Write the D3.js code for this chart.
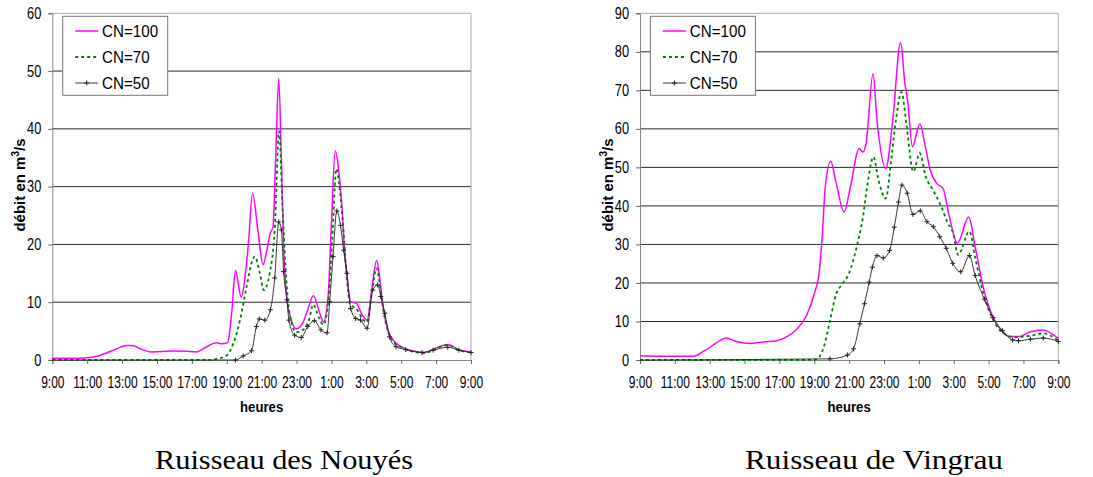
<!DOCTYPE html>
<html><head><meta charset="utf-8">
<script src="https://cdn.jsdelivr.net/npm/d3@7"></script>
<style>body{margin:0;background:#fff}svg{display:block}</style>
</head><body>
<svg id="c" width="1093" height="477"></svg>
<script>
// ---------- data ----------
const timeTicks = [0,2,4,6,8,10,12,14,16,18,20,22,24];          // hours after 9:00
const tickLabels = ["9:00","11:00","13:00","15:00","17:00","19:00","21:00","23:00","1:00","3:00","5:00","7:00","9:00"];
const seriesNames = ["CN=100","CN=70","CN=50"];

// Ruisseau des Nouyés
const nouyesT100 = [0,1,2,2.5,3.5,4.3,4.6,5.0,5.7,6.9,7.7,8.25,8.85,9.4,9.7,10.05,10.2,10.3,10.5,10.82,11.23,11.48,11.8,12.08,12.3,12.5,12.65,12.8,12.98,13.13,13.26,13.41,13.7,13.98,14.36,14.64,14.97,15.3,15.54,15.81,16.0,16.22,16.41,16.6,16.74,16.93,17.1,17.43,17.76,18.04,18.31,18.59,18.78,18.96,19.24,19.61,20.07,20.63,21.37,21.93,22.67,23.3,24];
const nouyesQ100 = [0.3,0.3,0.4,0.6,1.7,2.5,2.5,2.0,1.4,1.55,1.5,1.4,2.3,3.0,2.8,3.0,5.8,8.7,15.5,10.9,19.7,28.9,22,16.5,19,22,23,34.7,48.7,34.7,19.7,11.6,6.9,5.4,6.4,8.7,11.1,8.4,6.6,11,23.6,36.2,32.9,26.5,19.6,13.3,10.1,9.8,7.8,6.9,12.1,17.2,13.8,9.2,5.2,3.2,2.2,1.6,1.3,2.0,2.7,1.8,1.4];
const nouyesT70 = [0,9.0,9.4,10.0,10.38,10.76,11.14,11.42,11.61,11.9,12.12,12.46,12.75,13.0,13.19,13.37,13.6,13.98,14.36,14.74,14.95,15.3,15.54,15.81,16.05,16.28,16.46,16.65,16.83,17.1,17.43,17.76,18.04,18.31,18.59,18.8,18.98,19.24,19.61,20.07,20.63,21.37,21.93,22.67,23.3,24];
const nouyesQ70 = [0,0,0.2,0.8,2.9,6.9,12.7,16.8,17.9,15,12.1,15,22.5,39.6,27,16,8.1,4.8,5.2,7.2,9.6,7.2,6.1,9.8,21,33.1,30,24,16,9.5,8.9,7.2,6.5,11.5,15.9,12.5,8.5,5.0,3.0,2.1,1.5,1.2,1.9,2.6,1.7,1.3];
const nouyesT50 = [0,10.5,10.94,11.42,11.7,11.86,12.18,12.5,12.75,12.98,13.13,13.26,13.45,13.56,13.89,14.27,14.64,15.02,15.4,15.75,15.9,16.09,16.31,16.52,16.7,16.89,17.1,17.39,17.67,18.04,18.37,18.65,18.83,19.06,19.33,19.7,20.26,21.19,21.83,22.67,23.31,24];
const nouyesQ50 = [0,0,0.7,1.6,5.8,7.1,6.9,8.7,14.2,23.9,22.5,15.3,10.4,6.9,4.3,3.9,5.8,6.8,5.2,4.7,10.1,17.9,25.8,23.3,19,15,8.9,7.2,6.9,5.5,12.1,13,11,8.1,4.0,2.3,1.8,1.3,1.7,2.2,1.7,1.3];

// Ruisseau de Vingrau
const vingrauT100 = [0,1,2,3.06,3.63,4.4,4.93,5.54,6.31,7.07,7.84,8.41,8.95,9.55,10.0,10.27,10.45,10.63,10.94,11.26,11.71,12.07,12.58,12.79,12.97,13.37,13.6,14.1,14.5,14.95,15.2,15.35,15.63,16.06,16.37,16.65,17.01,17.38,17.75,18.21,18.86,19.23,19.69,20.24,20.7,21.26,21.72,22.46,23.1,24];
const vingrauQ100 = [1.1,1.0,1.0,1.0,2.2,4.5,5.7,4.8,4.3,4.7,5.0,6.0,7.8,11.5,17.2,22.4,31.9,44.9,51.6,45.8,38.4,44.9,54.9,54.0,56.2,74.3,62.2,49.7,62.2,82.4,71.8,67.5,55.4,61.3,55.4,49.4,45.9,44.6,37.2,30.3,37.1,29.4,19.0,11.3,7.8,6.1,6.1,7.4,7.8,5.6];
const vingrauT70 = [0,9.8,10.18,10.54,10.9,11.26,11.53,11.98,12.43,12.79,13.06,13.39,13.69,14.1,14.41,14.68,15.0,15.3,15.68,16.05,16.4,16.8,17.29,17.66,17.97,18.25,18.9,19.23,19.69,20.24,20.8,21.53,22.4,23.14,24];
const vingrauQ70 = [0,0,0.3,3.3,10.2,17.2,19.3,22.4,29.3,37.1,45.8,52.7,46.6,41.9,51.8,62.2,69.6,60.6,48.9,53.7,47.5,44.2,39.8,35.5,32.9,27.3,33.4,26.6,17.5,10.6,7.1,5.9,6.3,6.9,5.0];
const vingrauT50 = [0,10.9,11.9,12.25,12.61,12.88,13.15,13.33,13.6,13.96,14.32,14.59,14.83,15.03,15.33,15.66,16.08,16.46,16.83,17.2,17.57,17.94,18.4,18.9,19.23,19.76,20.25,20.8,21.38,21.72,22.4,23.14,24];
const vingrauQ50 = [0,0.3,1.3,2.9,9.4,14.6,20.2,24.1,27.1,26.5,28.4,34.5,41,45.4,43.3,37.8,38.7,35.9,34.6,32,29,25.1,22.9,27.1,21.9,15.8,11.0,7.6,5.2,5.0,5.4,5.7,4.8];

// ---------- drawing ----------
const svg = d3.select("#c");
const FONT = "Arial, 'Liberation Sans', sans-serif";
const colors = ["#ff00ff","#008000","#222"];

function squash(sel, k){
  sel.each(function(){
    const x = +this.getAttribute("x") || 0;
    this.setAttribute("x", 0);
    this.setAttribute("transform", `translate(${x},0) scale(${k},1)`);
  });
}

function drawChart(cfg){
  const {x0,x1,yTop,yBot,ymax,series,caption,capX} = cfg;
  const x = d3.scaleLinear().domain([0,24]).range([x0,x1]);
  const y = d3.scaleLinear().domain([0,ymax]).range([yBot,yTop]);
  const g = svg.append("g");

  // grid lines
  const yt = d3.range(10, ymax, 10);
  g.selectAll(".grid").data(yt).enter().append("line")
    .attr("x1",x0).attr("x2",x1).attr("y1",d=>y(d)).attr("y2",d=>y(d))
    .attr("stroke","#2a2a2a").attr("stroke-width",1);
  // plot border (top & right)
  g.append("path").attr("d",`M${x0},${y(ymax)}H${x1}V${yBot}`)
    .attr("fill","none").attr("stroke","#a8a8a8").attr("stroke-width",1);

  // y axis
  const ya = g.append("g").attr("transform",`translate(${x0},0)`)
    .call(d3.axisLeft(y).tickValues(d3.range(0,ymax+1,10)).tickSize(4).tickPadding(7).tickFormat(d3.format("d")));
  ya.select(".domain").attr("stroke","#888");
  ya.selectAll(".tick line").attr("stroke","#666");
  ya.selectAll("text").attr("font-family",FONT).attr("font-size",16).attr("fill","#000");
  squash(ya.selectAll("text"),0.8);

  // x axis
  const xa = g.append("g").attr("transform",`translate(0,${yBot})`)
    .call(d3.axisBottom(x).tickValues(timeTicks).tickSize(4).tickPadding(12.5).tickFormat((d,i)=>tickLabels[i]));
  xa.select(".domain").attr("stroke","#888");
  xa.selectAll(".tick line").attr("stroke","#666");
  xa.selectAll("text").attr("font-family",FONT).attr("font-size",16).attr("fill","#000");
  squash(xa.selectAll("text"),0.75);

  // axis titles
  g.append("text").attr("transform",`translate(${(x0+x1)/2},412) scale(0.85,1)`)
    .attr("text-anchor","middle").attr("font-family",FONT).attr("font-weight","bold")
    .attr("font-size",15.5).text("heures");
  const yl = g.append("text").attr("transform",`translate(${x0-27.5},185) rotate(-90)`)
    .attr("text-anchor","middle").attr("font-family",FONT).attr("font-weight","bold").attr("font-size",15);
  yl.append("tspan").text("débit en m");
  yl.append("tspan").attr("font-size",10).attr("dy",-6).text("3");
  yl.append("tspan").attr("dy",6).text("/s");

  // series
  const line = d3.line().x(d=>x(d[0])).y(d=>y(d[1])).curve(d3.curveMonotoneX);
  series.forEach((s,i)=>{
    const pts = s.t.map((t,j)=>[t,s.q[j]]);
    const p = g.append("path").attr("d",line(pts)).attr("fill","none").attr("stroke",colors[i]);
    if(i===0) p.attr("stroke-width",1.5);
    if(i===1) p.attr("stroke-width",1.8).attr("stroke-dasharray","3,3");
    if(i===2){
      p.attr("stroke-width",0.9);
      g.selectAll(null).data(pts.slice(1)).enter().append("path")
        .attr("d","M-2.5,0H2.5M0,-2.5V2.5")
        .attr("transform",d=>`translate(${x(d[0])},${y(d[1])})`)
        .attr("stroke","#222").attr("stroke-width",1);
    }
  });

  // legend
  const lx = x0+10.4, ly = yTop+3;
  const lg = g.append("g").attr("transform",`translate(${lx},${ly})`);
  lg.append("rect").attr("width",105).attr("height",79).attr("fill","#fff").attr("stroke","#777").attr("stroke-width",1);
  seriesNames.forEach((n,i)=>{
    const yy = 14.7 + i*26;
    const l = lg.append("line").attr("x1",12.5).attr("x2",35.5).attr("y1",yy).attr("y2",yy).attr("stroke",colors[i]);
    if(i===0) l.attr("stroke-width",1.5);
    if(i===1) l.attr("stroke-width",1.8).attr("stroke-dasharray","3,3");
    if(i===2){ l.attr("stroke-width",0.9);
      lg.append("path").attr("d",`M21.5,${yy}H26.5M24,${yy-2.5}V${yy+2.5}`).attr("stroke","#222"); }
    lg.append("text").attr("transform",`translate(39.4,${yy+6}) scale(0.92,1)`)
      .attr("font-family",FONT).attr("font-size",16.5).text(n);
  });

  // caption
  g.append("text").attr("x",capX).attr("y",469).attr("text-anchor","middle")
    .attr("font-family","'Liberation Serif','Times New Roman',serif").attr("font-size",27)
    .attr("textLength",258).attr("lengthAdjust","spacingAndGlyphs").text(caption);
}

drawChart({x0:52.3,x1:471,yTop:13.3,yBot:360,ymax:60,caption:"Ruisseau des Nouyés",capX:284,
  series:[{t:nouyesT100,q:nouyesQ100},{t:nouyesT70,q:nouyesQ70},{t:nouyesT50,q:nouyesQ50}]});
drawChart({x0:640,x1:1058.3,yTop:13.3,yBot:360,ymax:90,caption:"Ruisseau de Vingrau",capX:874,
  series:[{t:vingrauT100,q:vingrauQ100},{t:vingrauT70,q:vingrauQ70},{t:vingrauT50,q:vingrauQ50}]});
</script>
</body></html>
